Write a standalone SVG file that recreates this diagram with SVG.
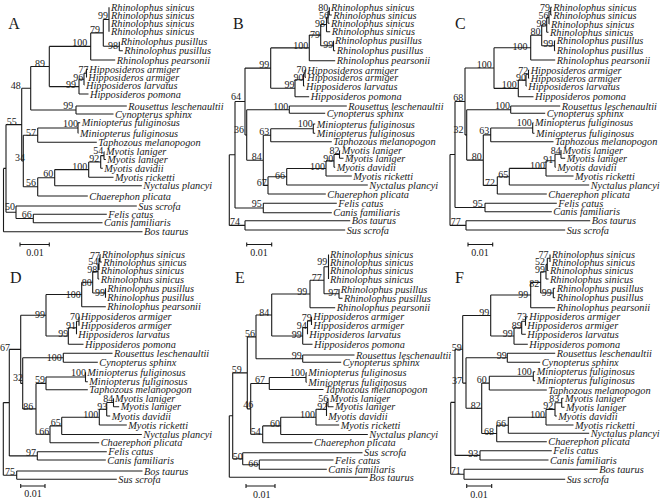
<svg xmlns="http://www.w3.org/2000/svg" width="662" height="499" viewBox="0 0 662 499">
<style>
.e{fill:none;stroke:#1a1a1a;stroke-width:1.1}
.t{font-family:"Liberation Serif",serif;font-style:italic;font-size:10.3px;fill:#1a1a1a}
.b{font-family:"Liberation Serif",serif;font-size:10px;fill:#1a1a1a;text-anchor:end}
.L{font-family:"Liberation Serif",serif;font-size:16px;fill:#1a1a1a}
.s{font-family:"Liberation Serif",serif;font-size:10px;fill:#1a1a1a;text-anchor:middle}
</style>
<rect width="662" height="499" fill="#fff"/>
<g id="connectors">
<path id="edgesA" class="e" d="M109 7.3V31.7M119.3 41.7V50.7M119.3 50.7H122.8M103.3 19.5V46.2M103.3 19.5H109M103.3 46.2H119.3M90.7 32.9V60M90.7 32.9H103.3M90.7 60H115.2M86.5 69.3V77.3M86.5 69.3H88M86.5 77.3H87M84 73.3V85M84 73.3H86.5M84 85H84.5M79 79.2V94M79 79.2H84M79 94H88.5M49.3 46.4V86.6M49.3 46.4H90.7M49.3 86.6H79M76 106V114M76 106H126.8M76 114H113.5M30.7 66.5V110M30.7 66.5H49.3M30.7 110H76M78 122.7V133.3M78 122.7H80.2M78 133.3H78.5M37.7 128V142.3M37.7 128H78M37.7 142.3H96.8M104 151.7V159.5M104 151.7H104.5M104 159.5H105.8M100.7 155.6V168.3M100.7 155.6H104M100.7 168.3H102.8M88.7 162V177.3M88.7 162H100.7M88.7 177.3H113.5M54.7 169.6V185.7M54.7 169.6H88.7M54.7 185.7H141.8M37.7 177.7V196M37.7 177.7H54.7M37.7 196H87.8M23.3 135.2V186.8M23.3 135.2H37.7M23.3 186.8H37.7M21.7 88.3V161M21.7 88.3H30.7M21.7 161H23.3M33.3 214.3V222.7M33.3 214.3H106.8M33.3 222.7H102.5M16 206V218.5M16 206H136.8M16 218.5H33.3M6 124.6V212.3M6 124.6H21.7M6 212.3H16M3.5 168.4V231.7M3.5 168.4H6M3.5 231.7H142.5"/>
<path id="edgesB" class="e" d="M329.3 7.3V15M329.3 15H331.8M328 11.2V23.3M328 11.2H329.3M328 23.3H329.5M326.5 17.3V31.7M326.5 17.3H328M326.5 31.7H330.2M333.5 40.7V50.7M333.5 50.7H335.2M320.7 24.5V45.7M320.7 24.5H326.5M320.7 45.7H333.5M309.3 35.1V60.7M309.3 35.1H320.7M309.3 60.7H335.2M305 70V77.3M305 70H306M305 77.3H306M303.5 73.7V86M303.5 73.7H305M303.5 86H304.5M295 79.8V96.7M295 79.8H303.5M295 96.7H309.2M270.7 47.9V88.3M270.7 47.9H309.3M270.7 88.3H295M289.3 106V113.3M289.3 106H346.8M289.3 113.3H325.2M313.3 124V133.3M313.3 124H315.2M313.3 133.3H315.2M270.7 128.7V141.7M270.7 128.7H313.3M270.7 141.7H331.8M339.5 150.7V158.3M339.5 150.7H340.2M339.5 158.3H343.5M334 154.5V167.3M334 154.5H339.5M334 167.3H335.2M326 160.9V176M326 160.9H334M326 176H351.8M286.7 168.5V185M286.7 168.5H326M286.7 185H367.8M268 176.7V194M268 176.7H286.7M268 194H325.8M263.3 135.2V185.4M263.3 135.2H270.7M263.3 185.4H268M246.7 109.7V160.3M246.7 109.7H289.3M246.7 160.3H263.3M245 68.1V135M245 68.1H270.7M245 135H246.7M263.3 203.3V212.7M263.3 203.3H336.8M263.3 212.7H331.8M235 101.5V208M235 101.5H245M235 208H263.3M245 220.7V230M245 220.7H350.2M245 230H345.2M229.3 154.8V225.4M229.3 154.8H235M229.3 225.4H245"/>
<path id="edgesC" class="e" d="M550.7 7.3V15M550.7 7.3H551.8M550.7 15H551.8M549 11.2V24M549 11.2H550.7M549 24H549.5M546.7 17.6V32.3M546.7 17.6H549M546.7 32.3H548.5M554.5 40.7V50.7M554.5 40.7H555.2M554.5 50.7H555.2M541.7 25V45.7M541.7 25H546.7M541.7 45.7H554.5M530.7 35.3V60M530.7 35.3H541.7M530.7 60H555.2M528.5 70V78.3M528.5 70H529.2M528.5 78.3H529.2M526 74.2V86M526 74.2H528.5M526 86H526.8M518.3 80.1V96.7M518.3 80.1H526M518.3 96.7H533.5M494 47.7V88.4M494 47.7H530.7M494 88.4H518.3M510.7 106V113.3M510.7 106H560.2M510.7 113.3H545.2M532.7 122.7V133.3M532.7 122.7H533.5M532.7 133.3H534.5M490.7 128V141.7M490.7 128H532.7M490.7 141.7H553.5M561 150V158.3M561 158.3H565.2M555 154.2V167.3M555 154.2H561M555 167.3H555.8M546 160.7V176M546 160.7H555M546 176H573.5M509.3 168.4V185M509.3 168.4H546M509.3 185H589.2M497.3 176.7V194M497.3 176.7H509.3M497.3 194H546.8M483.3 134.9V185.4M483.3 134.9H490.7M483.3 185.4H497.3M466.7 109.7V160.1M466.7 109.7H510.7M466.7 160.1H483.3M465 68V134.9M465 68H494M465 134.9H466.7M485 203.3V211.7M485 203.3H556.8M485 211.7H551.8M455 101.5V207.5M455 101.5H465M455 207.5H485M466 220.7V230M466 220.7H590.2M466 230H565.2M450 154.5V225.4M450 154.5H455M450 225.4H466"/>
<path id="edgesD" class="e" d="M100 254.5V262M100 254.5H100.5M100 262H101.8M99 258.3V270M99 258.3H100M98 264.2V279M98 264.2H99M98 279H99.2M105.5 288.3V297.7M92.7 271.6V293M92.7 271.6H98M92.7 293H105.5M81.7 282.3V306.7M81.7 282.3H92.7M81.7 306.7H105.8M79 316.7V325.7M76.5 321.2V334.3M76.5 321.2H79M68.3 327.8V344.3M68.3 327.8H76.5M68.3 344.3H83.5M46 294.5V336M46 294.5H81.7M46 336H68.3M63.3 353.3V362.3M63.3 353.3H112.5M63.3 362.3H97.8M85.5 372.3V381.7M85.5 381.7H87.8M46 377V389.8M46 377H85.5M46 389.8H87.8M113.5 398.3V406.7M113.5 406.7H119.2M106.7 402.5V416M106.7 402.5H113.5M106.7 416H110.2M99.3 409.3V425M99.3 409.3H106.7M99.3 425H126.8M61.7 417.2V434.5M61.7 417.2H99.3M61.7 434.5H141.8M50 425.9V442.7M50 425.9H61.7M50 442.7H99.2M36 383.4V434.3M36 383.4H46M36 434.3H50M22.7 357.8V408.9M22.7 357.8H63.3M22.7 408.9H36M20.7 315.3V383.4M20.7 315.3H46M20.7 383.4H22.7M37.3 451.7V460M37.3 451.7H106.8M37.3 460H105.8M9.3 349.4V455.9M9.3 349.4H20.7M9.3 455.9H37.3M16.7 471V479.3M16.7 471H142.5M16.7 479.3H116.8M3.3 402.6V475.2M3.3 402.6H9.3M3.3 475.2H16.7"/>
<path id="edgesE" class="e" d="M328.5 254.5V279M339 289V298.3M339 298.3H342.5M324 266.8V293.7M324 266.8H328.5M324 293.7H339M310 280.2V307.7M310 280.2H324M310 307.7H335.2M311.5 316.7V325M307.5 320.9V334.3M307.5 320.9H311.5M302.7 327.6V344.3M302.7 327.6H307.5M302.7 344.3H312.5M271.7 294V336M271.7 294H310M271.7 336H302.7M302.7 355V362.3M302.7 355H354.5M302.7 362.3H341.2M256 315V358.7M256 315H271.7M256 358.7H302.7M306 372.7V382.3M306 372.7H306.8M306 382.3H306.8M269.3 377.5V389.5M269.3 377.5H306M269.3 389.5H323.5M328 398.3V406.7M328 406.7H333.5M326.5 402.5V416M326.5 402.5H328M316 409.3V425M316 409.3H326.5M316 425H339.2M280.7 417.2V434.5M280.7 417.2H316M280.7 434.5H367.8M262.7 425.9V442.7M262.7 425.9H280.7M262.7 442.7H312.5M250.7 383.5V434.3M250.7 383.5H269.3M250.7 434.3H262.7M247.3 336.9V408.9M247.3 336.9H256M247.3 408.9H250.7M259.3 460V469.3M259.3 460H333.5M259.3 469.3H326.8M242.7 452.7V464.7M242.7 452.7H362.5M242.7 464.7H259.3M232.7 372.9V458.7M232.7 372.9H247.3M232.7 458.7H242.7M229.3 415.8V477.3M229.3 415.8H232.7M229.3 477.3H367.8"/>
<path id="edgesF" class="e" d="M550 254.5V262M547.3 258.3V270.5M547.3 258.3H550M547.3 270.5H548.5M546 264.4V279M546 264.4H547.3M546 279H548.5M553.3 288.3V297.7M553.3 288.3H555.2M553.3 297.7H555.2M540.7 271.7V293M540.7 271.7H546M540.7 293H553.3M530.7 282.4V307.7M530.7 282.4H540.7M530.7 307.7H555.2M525.5 316.7V325.7M525.5 316.7H527.8M521.7 321.2V334.3M521.7 321.2H525.5M521.7 334.3H525.8M514 327.8V344.3M514 327.8H521.7M514 344.3H527.8M490.7 295V336M490.7 295H530.7M490.7 336H514M507.3 353.3V362.3M507.3 353.3H555.2M507.3 362.3H540.2M533.3 371.7V380.7M533.3 371.7H535.2M533.3 380.7H535.2M489.3 376.2V390M489.3 376.2H533.3M489.3 390H546.8M561.7 398.3V407.3M561.7 398.3H563.5M561.7 407.3H564.5M555 402.8V416M555 402.8H561.7M555 416H556.8M546 409.4V425M546 409.4H555M546 425H573.5M508.3 417.2V433.3M508.3 417.2H546M508.3 433.3H589.2M496.7 425.3V441.7M496.7 425.3H508.3M496.7 441.7H546.8M481.7 383.1V433.5M481.7 383.1H489.3M481.7 433.5H496.7M466 357.8V408.3M466 357.8H507.3M466 408.3H481.7M462.7 315.5V383.1M462.7 315.5H490.7M462.7 383.1H466M480 450.7V460M480 450.7H551.8M480 460H548.5M455 349.3V455.4M455 349.3H462.7M455 455.4H480M464 469.3V479.3M464 469.3H597.8M464 479.3H565.2M450.7 402.4V474.3M450.7 402.4H455M450.7 474.3H464"/>
<path id="scalebars" class="e" d="M20 244.5H49.3M20 242.5V246.5M49.3 242.5V246.5M246.7 244.5H271.7M246.7 242.5V246.5M271.7 242.5V246.5M468 244.5H492.7M468 242.5V246.5M492.7 242.5V246.5M20.7 486H45M20.7 484V488M45 484V488M246 486H275M246 484V488M275 484V488M466.7 486H491.7M466.7 484V488M491.7 484V488"/>
</g>
<g id="panelA">
<text class="L" x="8.3" y="28.5">A</text>
<text class="s" x="35" y="256">0.01</text>
<g id="A-taxa">
<text id="A1" class="t" x="111" y="10.8">Rhinolophus sinicus</text>
<text id="A2" class="t" x="111" y="19">Rhinolophus sinicus</text>
<text id="A3" class="t" x="111" y="27">Rhinolophus sinicus</text>
<text id="A4" class="t" x="111" y="35.2">Rhinolophus sinicus</text>
<text id="A5" class="t" x="120.7" y="45.2">Rhinolophus pusillus</text>
<text id="A6" class="t" x="124.3" y="54.2">Rhinolophus pusillus</text>
<text id="A7" class="t" x="116.7" y="63.5">Rhinolophus pearsonii</text>
<text id="A8" class="t" x="89.3" y="72.8">Hipposideros armiger</text>
<text id="A9" class="t" x="88.3" y="80.8">Hipposideros armiger</text>
<text id="A10" class="t" x="86" y="88.5">Hipposideros larvatus</text>
<text id="A11" class="t" x="90" y="97.5">Hipposideros pomona</text>
<text id="A12" class="t" x="128.3" y="109.5">Rousettus leschenaultii</text>
<text id="A13" class="t" x="115" y="117.5">Cynopterus sphinx</text>
<text id="A14" class="t" x="81.7" y="126.2">Miniopterus fuliginosus</text>
<text id="A15" class="t" x="80" y="136.8">Miniopterus fuliginosus</text>
<text id="A16" class="t" x="98.3" y="145.8">Taphozous melanopogon</text>
<text id="A17" class="t" x="106" y="155.2">Myotis laniger</text>
<text id="A18" class="t" x="107.3" y="163">Myotis laniger</text>
<text id="A19" class="t" x="104.3" y="171.8">Myotis davidii</text>
<text id="A20" class="t" x="115" y="180.8">Myotis ricketti</text>
<text id="A21" class="t" x="143.3" y="189.2">Nyctalus plancyi</text>
<text id="A22" class="t" x="89.3" y="199.5">Chaerephon plicata</text>
<text id="A23" class="t" x="138.3" y="209.5">Sus scrofa</text>
<text id="A24" class="t" x="108.3" y="217.8">Felis catus</text>
<text id="A25" class="t" x="104" y="226.2">Canis familiaris</text>
<text id="A26" class="t" x="144" y="235.2">Bos taurus</text>
</g>
<g id="A-support">
<text class="b" x="108" y="19">99</text>
<text class="b" x="100" y="32.8">79</text>
<text class="b" x="118" y="48.5">98</text>
<text class="b" x="87.3" y="45.8">100</text>
<text class="b" x="45" y="66.8">89</text>
<text class="b" x="88.5" y="72.5">77</text>
<text class="b" x="83.3" y="81">96</text>
<text class="b" x="76" y="87.5">99</text>
<text class="b" x="20.7" y="88.5">48</text>
<text class="b" x="73.3" y="109">99</text>
<text class="b" x="16.7" y="124.8">55</text>
<text class="b" x="78" y="126.5">100</text>
<text class="b" x="36" y="135.5">57</text>
<text class="b" x="103.3" y="154.2">54</text>
<text class="b" x="99.3" y="161.8">92</text>
<text class="b" x="25" y="160.5">34</text>
<text class="b" x="87.3" y="169.8">100</text>
<text class="b" x="53.3" y="176.5">60</text>
<text class="b" x="36" y="186">56</text>
<text class="b" x="15" y="210">50</text>
<text class="b" x="31.7" y="217.5">66</text>
</g>
</g>
<g id="panelB">
<text class="L" x="233" y="28.5">B</text>
<text class="s" x="259" y="256">0.01</text>
<g id="B-taxa">
<text id="B1" class="t" x="331" y="10.8">Rhinolophus sinicus</text>
<text id="B2" class="t" x="333.3" y="18.5">Rhinolophus sinicus</text>
<text id="B3" class="t" x="331" y="26.8">Rhinolophus sinicus</text>
<text id="B4" class="t" x="331.7" y="35.2">Rhinolophus sinicus</text>
<text id="B5" class="t" x="335" y="44.2">Rhinolophus pusillus</text>
<text id="B6" class="t" x="336.7" y="54.2">Rhinolophus pusillus</text>
<text id="B7" class="t" x="336.7" y="64.2">Rhinolophus pearsonii</text>
<text id="B8" class="t" x="307.3" y="73.5">Hipposideros armiger</text>
<text id="B9" class="t" x="307.3" y="80.8">Hipposideros armiger</text>
<text id="B10" class="t" x="306" y="89.5">Hipposideros larvatus</text>
<text id="B11" class="t" x="310.7" y="100.2">Hipposideros pomona</text>
<text id="B12" class="t" x="348.3" y="109.5">Rousettus leschenaultii</text>
<text id="B13" class="t" x="326.7" y="116.8">Cynopterus sphinx</text>
<text id="B14" class="t" x="316.7" y="127.5">Miniopterus fuliginosus</text>
<text id="B15" class="t" x="316.7" y="136.8">Miniopterus fuliginosus</text>
<text id="B16" class="t" x="333.3" y="145.2">Taphozous melanopogon</text>
<text id="B17" class="t" x="341.7" y="154.2">Myotis laniger</text>
<text id="B18" class="t" x="345" y="161.8">Myotis laniger</text>
<text id="B19" class="t" x="336.7" y="170.8">Myotis davidii</text>
<text id="B20" class="t" x="353.3" y="179.5">Myotis ricketti</text>
<text id="B21" class="t" x="369.3" y="188.5">Nyctalus plancyi</text>
<text id="B22" class="t" x="327.3" y="197.5">Chaerephon plicata</text>
<text id="B23" class="t" x="338.3" y="206.8">Felis catus</text>
<text id="B24" class="t" x="333.3" y="216.2">Canis familiaris</text>
<text id="B25" class="t" x="351.7" y="224.2">Bos taurus</text>
<text id="B26" class="t" x="346.7" y="233.5">Sus scrofa</text>
</g>
<g id="B-support">
<text class="b" x="328.3" y="10.8">80</text>
<text class="b" x="329" y="18.5">56</text>
<text class="b" x="325" y="26.8">98</text>
<text class="b" x="320" y="37.5">79</text>
<text class="b" x="333.3" y="47.5">99</text>
<text class="b" x="308.3" y="49">100</text>
<text class="b" x="269.3" y="67.5">99</text>
<text class="b" x="306.5" y="73">70</text>
<text class="b" x="303.5" y="80.8">90</text>
<text class="b" x="294.5" y="87.5">99</text>
<text class="b" x="241" y="99.8">64</text>
<text class="b" x="288.3" y="109.5">100</text>
<text class="b" x="312.7" y="126.8">100</text>
<text class="b" x="244" y="132.5">36</text>
<text class="b" x="269.3" y="134.5">63</text>
<text class="b" x="339.5" y="153.5">82</text>
<text class="b" x="261.7" y="159.5">84</text>
<text class="b" x="333.3" y="161.8">90</text>
<text class="b" x="325" y="169.5">100</text>
<text class="b" x="285" y="178.5">66</text>
<text class="b" x="266.7" y="185.5">67</text>
<text class="b" x="261.7" y="206.8">95</text>
<text class="b" x="240" y="225.2">74</text>
</g>
</g>
<g id="panelC">
<text class="L" x="455" y="28.8">C</text>
<text class="s" x="480" y="256">0.01</text>
<g id="C-taxa">
<text id="C1" class="t" x="553.3" y="10.8">Rhinolophus sinicus</text>
<text id="C2" class="t" x="553.3" y="18.5">Rhinolophus sinicus</text>
<text id="C3" class="t" x="551" y="27.5">Rhinolophus sinicus</text>
<text id="C4" class="t" x="550" y="35.8">Rhinolophus sinicus</text>
<text id="C5" class="t" x="556.7" y="44.2">Rhinolophus pusillus</text>
<text id="C6" class="t" x="556.7" y="54.2">Rhinolophus pusillus</text>
<text id="C7" class="t" x="556.7" y="63.5">Rhinolophus pearsonii</text>
<text id="C8" class="t" x="530.7" y="73.5">Hipposideros armiger</text>
<text id="C9" class="t" x="530.7" y="81.8">Hipposideros armiger</text>
<text id="C10" class="t" x="528.3" y="89.5">Hipposideros larvatus</text>
<text id="C11" class="t" x="535" y="100.2">Hipposideros pomona</text>
<text id="C12" class="t" x="561.7" y="109.5">Rousettus leschenaultii</text>
<text id="C13" class="t" x="546.7" y="116.8">Cynopterus sphinx</text>
<text id="C14" class="t" x="535" y="126.2">Miniopterus fuliginosus</text>
<text id="C15" class="t" x="536" y="136.8">Miniopterus fuliginosus</text>
<text id="C16" class="t" x="555" y="145.2">Taphozous melanopogon</text>
<text id="C17" class="t" x="562.7" y="153.5">Myotis laniger</text>
<text id="C18" class="t" x="566.7" y="161.8">Myotis laniger</text>
<text id="C19" class="t" x="557.3" y="170.8">Myotis davidii</text>
<text id="C20" class="t" x="575" y="179.5">Myotis ricketti</text>
<text id="C21" class="t" x="590.7" y="188.5">Nyctalus plancyi</text>
<text id="C22" class="t" x="548.3" y="197.5">Chaerephon plicata</text>
<text id="C23" class="t" x="558.3" y="206.8">Felis catus</text>
<text id="C24" class="t" x="553.3" y="215.2">Canis familiaris</text>
<text id="C25" class="t" x="591.7" y="224.2">Bos taurus</text>
<text id="C26" class="t" x="566.7" y="233.5">Sus scrofa</text>
</g>
<g id="C-support">
<text class="b" x="550" y="10.8">79</text>
<text class="b" x="548.5" y="18.5">56</text>
<text class="b" x="546.5" y="26.8">98</text>
<text class="b" x="540.5" y="35.2">80</text>
<text class="b" x="553.3" y="46.5">99</text>
<text class="b" x="527.5" y="49.5">100</text>
<text class="b" x="491.7" y="67.5">100</text>
<text class="b" x="528.3" y="73.5">72</text>
<text class="b" x="526" y="80.8">90</text>
<text class="b" x="516.7" y="87.5">100</text>
<text class="b" x="463.3" y="100.8">68</text>
<text class="b" x="510" y="108.5">100</text>
<text class="b" x="531.7" y="126.2">100</text>
<text class="b" x="463.5" y="132.5">32</text>
<text class="b" x="489.3" y="134.2">63</text>
<text class="b" x="560.7" y="153.5">84</text>
<text class="b" x="481.7" y="159.5">80</text>
<text class="b" x="553.3" y="162.5">91</text>
<text class="b" x="545" y="169.2">100</text>
<text class="b" x="508.3" y="177.5">65</text>
<text class="b" x="495" y="185.5">72</text>
<text class="b" x="482.7" y="206.8">95</text>
<text class="b" x="460.7" y="224.5">77</text>
</g>
</g>
<g id="panelD">
<text class="L" x="10" y="283">D</text>
<text class="s" x="33" y="497">0.01</text>
<g id="D-taxa">
<text id="D1" class="t" x="101.7" y="258">Rhinolophus sinicus</text>
<text id="D2" class="t" x="103.3" y="265.5">Rhinolophus sinicus</text>
<text id="D3" class="t" x="100.7" y="273.5">Rhinolophus sinicus</text>
<text id="D4" class="t" x="100.7" y="282.5">Rhinolophus sinicus</text>
<text id="D5" class="t" x="107.3" y="291.8">Rhinolophus pusillus</text>
<text id="D6" class="t" x="107.3" y="301.2">Rhinolophus pusillus</text>
<text id="D7" class="t" x="107.3" y="310.2">Rhinolophus pearsonii</text>
<text id="D8" class="t" x="80.7" y="320.2">Hipposideros armiger</text>
<text id="D9" class="t" x="80.7" y="329.2">Hipposideros armiger</text>
<text id="D10" class="t" x="78.3" y="337.8">Hipposideros larvatus</text>
<text id="D11" class="t" x="85" y="347.8">Hipposideros pomona</text>
<text id="D12" class="t" x="114" y="356.8">Rousettus leschenaultii</text>
<text id="D13" class="t" x="99.3" y="365.8">Cynopterus sphinx</text>
<text id="D14" class="t" x="87.3" y="375.8">Miniopterus fuliginosus</text>
<text id="D15" class="t" x="89.3" y="385.2">Miniopterus fuliginosus</text>
<text id="D16" class="t" x="89.3" y="393.3">Taphozous melanopogon</text>
<text id="D17" class="t" x="115" y="401.8">Myotis laniger</text>
<text id="D18" class="t" x="120.7" y="410.2">Myotis laniger</text>
<text id="D19" class="t" x="111.7" y="419.5">Myotis davidii</text>
<text id="D20" class="t" x="128.3" y="428.5">Myotis ricketti</text>
<text id="D21" class="t" x="143.3" y="438">Nyctalus plancyi</text>
<text id="D22" class="t" x="100.7" y="446.2">Chaerephon plicata</text>
<text id="D23" class="t" x="108.3" y="455.2">Felis catus</text>
<text id="D24" class="t" x="107.3" y="463.5">Canis familiaris</text>
<text id="D25" class="t" x="144" y="474.5">Bos taurus</text>
<text id="D26" class="t" x="118.3" y="482.8">Sus scrofa</text>
</g>
<g id="D-support">
<text class="b" x="100" y="258.5">77</text>
<text class="b" x="98.3" y="265.2">54</text>
<text class="b" x="97.3" y="273">98</text>
<text class="b" x="91.7" y="286">80</text>
<text class="b" x="105" y="295.5">99</text>
<text class="b" x="80.7" y="297.5">100</text>
<text class="b" x="45" y="317.5">99</text>
<text class="b" x="80" y="320.2">70</text>
<text class="b" x="76" y="328.5">91</text>
<text class="b" x="68.3" y="337">99</text>
<text class="b" x="10" y="351.2">67</text>
<text class="b" x="61.7" y="360.5">100</text>
<text class="b" x="86" y="376">100</text>
<text class="b" x="23" y="380.8">32</text>
<text class="b" x="45" y="382.7">59</text>
<text class="b" x="113.3" y="401.8">84</text>
<text class="b" x="33.3" y="409.5">86</text>
<text class="b" x="107.3" y="410.2">93</text>
<text class="b" x="98.3" y="418">100</text>
<text class="b" x="60.7" y="426">65</text>
<text class="b" x="49.3" y="434.7">66</text>
<text class="b" x="36" y="455.5">97</text>
<text class="b" x="15" y="475.2">75</text>
</g>
</g>
<g id="panelE">
<text class="L" x="235" y="283">E</text>
<text class="s" x="261.7" y="497.5">0.01</text>
<g id="E-taxa">
<text id="E1" class="t" x="330" y="258">Rhinolophus sinicus</text>
<text id="E2" class="t" x="330" y="265.5">Rhinolophus sinicus</text>
<text id="E3" class="t" x="330" y="273.5">Rhinolophus sinicus</text>
<text id="E4" class="t" x="330" y="282.5">Rhinolophus sinicus</text>
<text id="E5" class="t" x="340.7" y="292.5">Rhinolophus pusillus</text>
<text id="E6" class="t" x="344" y="301.8">Rhinolophus pusillus</text>
<text id="E7" class="t" x="336.7" y="311.2">Rhinolophus pearsonii</text>
<text id="E8" class="t" x="313.3" y="320.2">Hipposideros armiger</text>
<text id="E9" class="t" x="313.3" y="328.5">Hipposideros armiger</text>
<text id="E10" class="t" x="309.3" y="337.8">Hipposideros larvatus</text>
<text id="E11" class="t" x="314" y="347.8">Hipposideros pomona</text>
<text id="E12" class="t" x="356" y="358.5">Rousettus leschenaultii</text>
<text id="E13" class="t" x="342.7" y="365.8">Cynopterus sphinx</text>
<text id="E14" class="t" x="308.3" y="376.2">Miniopterus fuliginosus</text>
<text id="E15" class="t" x="308.3" y="385.8">Miniopterus fuliginosus</text>
<text id="E16" class="t" x="325" y="393">Taphozous melanopogon</text>
<text id="E17" class="t" x="330" y="401.8">Myotis laniger</text>
<text id="E18" class="t" x="335" y="410.2">Myotis laniger</text>
<text id="E19" class="t" x="328.3" y="419.5">Myotis davidii</text>
<text id="E20" class="t" x="340.7" y="428.5">Myotis ricketti</text>
<text id="E21" class="t" x="369.3" y="438">Nyctalus plancyi</text>
<text id="E22" class="t" x="314" y="446.2">Chaerephon plicata</text>
<text id="E23" class="t" x="364" y="456.2">Sus scrofa</text>
<text id="E24" class="t" x="335" y="463.5">Felis catus</text>
<text id="E25" class="t" x="328.3" y="472.8">Canis familiaris</text>
<text id="E26" class="t" x="369.3" y="480.8">Bos taurus</text>
</g>
<g id="E-support">
<text class="b" x="327.3" y="264.5">99</text>
<text class="b" x="321.7" y="280.5">77</text>
<text class="b" x="338.3" y="296">97</text>
<text class="b" x="307.3" y="295.2">99</text>
<text class="b" x="269.3" y="315.5">84</text>
<text class="b" x="311.7" y="321">79</text>
<text class="b" x="306.7" y="329">94</text>
<text class="b" x="301.7" y="337.5">99</text>
<text class="b" x="255" y="337.3">56</text>
<text class="b" x="301.7" y="358.5">99</text>
<text class="b" x="241.7" y="372.7">59</text>
<text class="b" x="305" y="376">100</text>
<text class="b" x="265" y="383.2">67</text>
<text class="b" x="253.3" y="407.7">46</text>
<text class="b" x="328.3" y="401.8">56</text>
<text class="b" x="327.3" y="409.7">92</text>
<text class="b" x="315" y="418">100</text>
<text class="b" x="280" y="426.5">60</text>
<text class="b" x="260.7" y="435.2">54</text>
<text class="b" x="242.7" y="459.8">50</text>
<text class="b" x="258.3" y="466.5">66</text>
</g>
</g>
<g id="panelF">
<text class="L" x="455" y="283">F</text>
<text class="s" x="479" y="497.5">0.01</text>
<g id="F-taxa">
<text id="F1" class="t" x="551.7" y="258">Rhinolophus sinicus</text>
<text id="F2" class="t" x="551.7" y="265.5">Rhinolophus sinicus</text>
<text id="F3" class="t" x="550" y="274">Rhinolophus sinicus</text>
<text id="F4" class="t" x="550" y="282.5">Rhinolophus sinicus</text>
<text id="F5" class="t" x="556.7" y="291.8">Rhinolophus pusillus</text>
<text id="F6" class="t" x="556.7" y="301.2">Rhinolophus pusillus</text>
<text id="F7" class="t" x="556.7" y="311.2">Rhinolophus pearsonii</text>
<text id="F8" class="t" x="529.3" y="320.2">Hipposideros armiger</text>
<text id="F9" class="t" x="527.3" y="329.2">Hipposideros armiger</text>
<text id="F10" class="t" x="527.3" y="337.8">Hipposideros larvatus</text>
<text id="F11" class="t" x="529.3" y="347.8">Hipposideros pomona</text>
<text id="F12" class="t" x="556.7" y="356.8">Rousettus leschenaultii</text>
<text id="F13" class="t" x="541.7" y="365.8">Cynopterus sphinx</text>
<text id="F14" class="t" x="536.7" y="375.2">Miniopterus fuliginosus</text>
<text id="F15" class="t" x="536.7" y="384.2">Miniopterus fuliginosus</text>
<text id="F16" class="t" x="548.3" y="393.5">Taphozous melanopogon</text>
<text id="F17" class="t" x="565" y="401.8">Myotis laniger</text>
<text id="F18" class="t" x="566" y="410.8">Myotis laniger</text>
<text id="F19" class="t" x="558.3" y="419.5">Myotis davidii</text>
<text id="F20" class="t" x="575" y="428.5">Myotis ricketti</text>
<text id="F21" class="t" x="590.7" y="436.8">Nyctalus plancyi</text>
<text id="F22" class="t" x="548.3" y="445.2">Chaerephon plicata</text>
<text id="F23" class="t" x="553.3" y="454.2">Felis catus</text>
<text id="F24" class="t" x="550" y="463.5">Canis familiaris</text>
<text id="F25" class="t" x="599.3" y="472.8">Bos taurus</text>
<text id="F26" class="t" x="566.7" y="482.8">Sus scrofa</text>
</g>
<g id="F-support">
<text class="b" x="548.5" y="258">77</text>
<text class="b" x="545" y="265.2">52</text>
<text class="b" x="545" y="273">99</text>
<text class="b" x="539.3" y="286.8">82</text>
<text class="b" x="551.7" y="295.5">99</text>
<text class="b" x="528.3" y="297.5">99</text>
<text class="b" x="489.3" y="315.5">99</text>
<text class="b" x="527" y="319.5">73</text>
<text class="b" x="521.7" y="328.5">89</text>
<text class="b" x="512.7" y="337.3">99</text>
<text class="b" x="461.7" y="351.2">59</text>
<text class="b" x="506.7" y="358.5">99</text>
<text class="b" x="531.7" y="375.2">100</text>
<text class="b" x="462" y="383.5">37</text>
<text class="b" x="486.7" y="383.2">60</text>
<text class="b" x="559.3" y="401.8">83</text>
<text class="b" x="480.7" y="409.3">82</text>
<text class="b" x="553.3" y="409.3">92</text>
<text class="b" x="545" y="418">100</text>
<text class="b" x="506" y="426.5">66</text>
<text class="b" x="494" y="435.2">68</text>
<text class="b" x="478.3" y="456.8">93</text>
<text class="b" x="460.7" y="473.5">71</text>
</g>
</g>
</svg>
